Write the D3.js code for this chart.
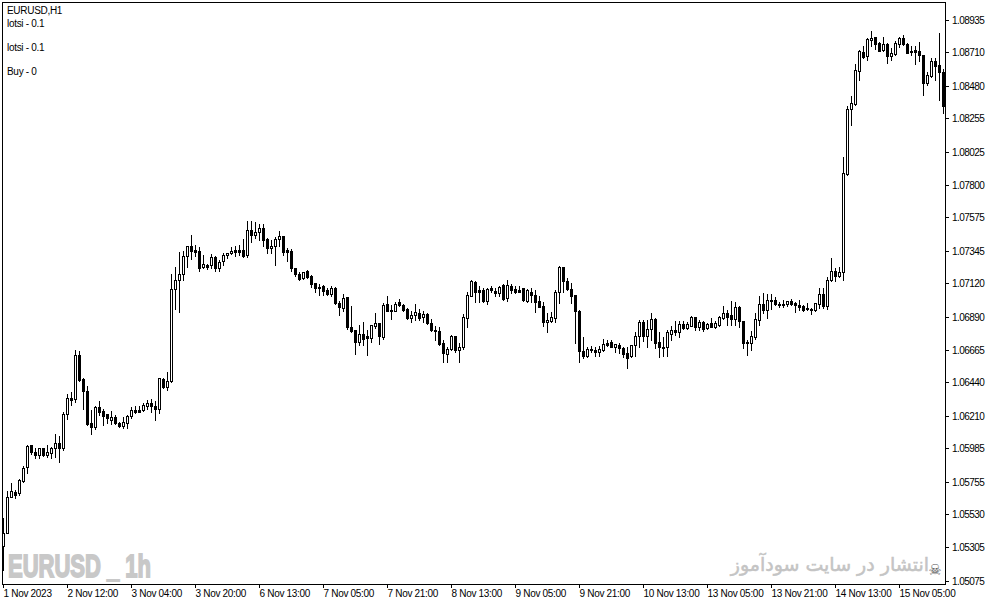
<!DOCTYPE html>
<html><head><meta charset="utf-8">
<script src="https://cdn.jsdelivr.net/npm/d3@7/dist/d3.min.js"></script>
<style>html,body{margin:0;padding:0;background:#fff;overflow:hidden}svg{display:block}
text{font-family:"Liberation Sans",Arial,sans-serif}</style></head><body>
<svg id="c" width="991" height="605"></svg>
<script>
const opens=[
1.05323,1.05408,1.05660,1.05690,1.05683,1.05770,1.05862,1.06016,1.05968,1.05947,
1.05993,1.05947,1.05963,1.05993,1.06027,1.05993,1.06229,1.06337,1.06330,1.06635,
1.06470,1.06383,1.06165,1.06142,1.06275,1.06247,1.06227,1.06188,1.06208,1.06165,
1.06149,1.06169,1.06211,1.06257,1.06257,1.06257,1.06284,1.06302,1.06282,1.06261,
1.06470,1.06417,1.06456,1.07087,1.07151,1.07190,1.07317,1.07383,1.07358,1.07351,
1.07243,1.07255,1.07250,1.07310,1.07236,1.07278,1.07319,1.07333,1.07358,1.07358,
1.07358,1.07319,1.07493,1.07463,1.07479,1.07507,1.07433,1.07367,1.07383,1.07431,
1.07452,1.07358,1.07351,1.07232,1.07193,1.07163,1.07211,1.07179,1.07128,1.07103,
1.07108,1.07083,1.07057,1.07096,1.06993,1.06956,1.07032,1.06826,1.06807,1.06727,
1.06780,1.06762,1.06750,1.06835,1.06853,1.06757,1.06986,1.06945,1.06938,1.06998,
1.06979,1.06950,1.06892,1.06908,1.06922,1.06895,1.06917,1.06853,1.06805,1.06796,
1.06716,1.06638,1.06674,1.06766,1.06670,1.06686,1.06892,1.07041,1.07135,1.07080,
1.07080,1.07009,1.07092,1.07073,1.07062,1.07117,1.07025,1.07110,1.07087,1.07083,
1.07092,1.07009,1.07071,1.07048,1.07009,1.06973,1.06860,1.06867,1.06892,1.07067,
1.07241,1.07145,1.07089,1.07044,1.06934,1.06665,1.06628,1.06674,1.06670,1.06658,
1.06670,1.06718,1.06723,1.06686,1.06702,1.06684,1.06647,1.06624,1.06700,1.06762,
1.06860,1.06762,1.06812,1.06883,1.06725,1.06690,1.06688,1.06780,1.06805,1.06789,
1.06846,1.06823,1.06837,1.06895,1.06830,1.06862,1.06823,1.06853,1.06830,1.06842,
1.06892,1.06922,1.06908,1.06885,1.06966,1.06865,1.06725,1.06720,1.06759,1.06878,
1.06986,1.06945,1.07016,1.07014,1.06986,1.06986,1.06982,1.07009,1.06995,1.06977,
1.06970,1.06956,1.06954,1.06947,1.06986,1.07055,1.06973,1.07147,1.07213,1.07179,
1.07204,1.07880,1.08325,1.08362,1.08591,1.08718,1.08688,1.08802,1.08821,1.08782,
1.08734,1.08775,1.08688,1.08706,1.08775,1.08814,1.08775,1.08729,1.08734,1.08727,
1.08699,1.08504,1.08555,1.08658,1.08630,1.08580];
const closes=[
1.05408,1.05660,1.05695,1.05674,1.05775,1.05855,1.06009,1.05970,1.05947,1.05993,
1.05947,1.05965,1.05993,1.06027,1.05993,1.06229,1.06337,1.06325,1.06635,1.06463,
1.06383,1.06160,1.06142,1.06275,1.06245,1.06215,1.06199,1.06206,1.06165,1.06149,
1.06172,1.06215,1.06257,1.06245,1.06245,1.06291,1.06302,1.06280,1.06261,1.06474,
1.06417,1.06458,1.07087,1.07149,1.07190,1.07317,1.07383,1.07353,1.07346,1.07236,
1.07259,1.07243,1.07310,1.07236,1.07273,1.07323,1.07335,1.07349,1.07346,1.07346,
1.07317,1.07493,1.07463,1.07479,1.07507,1.07427,1.07367,1.07383,1.07433,1.07452,
1.07346,1.07346,1.07236,1.07190,1.07158,1.07204,1.07170,1.07126,1.07092,1.07092,
1.07076,1.07057,1.07096,1.06993,1.06961,1.07025,1.06830,1.06800,1.06727,1.06780,
1.06745,1.06750,1.06842,1.06853,1.06762,1.06979,1.06938,1.06934,1.06986,1.06975,
1.06945,1.06892,1.06908,1.06927,1.06888,1.06915,1.06851,1.06803,1.06796,1.06713,
1.06645,1.06677,1.06766,1.06670,1.06688,1.06895,1.07048,1.07140,1.07071,1.07071,
1.07009,1.07087,1.07083,1.07062,1.07101,1.07021,1.07117,1.07083,1.07071,1.07071,
1.07014,1.07078,1.07044,1.07002,1.06966,1.06858,1.06876,1.06895,1.07071,1.07241,
1.07140,1.07087,1.07041,1.06934,1.06665,1.06628,1.06677,1.06670,1.06658,1.06677,
1.06711,1.06706,1.06690,1.06709,1.06679,1.06642,1.06615,1.06702,1.06764,1.06860,
1.06762,1.06812,1.06881,1.06720,1.06686,1.06684,1.06789,1.06807,1.06789,1.06846,
1.06823,1.06849,1.06899,1.06830,1.06862,1.06814,1.06849,1.06830,1.06853,1.06895,
1.06922,1.06899,1.06885,1.06966,1.06865,1.06720,1.06716,1.06764,1.06881,1.06986,
1.06945,1.07014,1.07009,1.06982,1.06979,1.06979,1.07005,1.06986,1.06975,1.06966,
1.06945,1.06950,1.06947,1.06989,1.07055,1.06973,1.07151,1.07213,1.07181,1.07202,
1.07885,1.08325,1.08367,1.08596,1.08727,1.08685,1.08809,1.08818,1.08775,1.08729,
1.08775,1.08688,1.08711,1.08779,1.08814,1.08773,1.08715,1.08720,1.08722,1.08695,
1.08509,1.08562,1.08658,1.08626,1.08578,1.08348];
const highs=[
1.05511,1.05695,1.05752,1.05706,1.05782,1.05867,1.06016,1.06016,1.05993,1.05993,
1.05993,1.06016,1.06004,1.06091,1.06078,1.06241,1.06367,1.06378,1.06669,1.06665,
1.06474,1.06422,1.06257,1.06284,1.06318,1.06261,1.06227,1.06250,1.06218,1.06176,
1.06206,1.06222,1.06275,1.06284,1.06284,1.06302,1.06325,1.06330,1.06318,1.06474,
1.06474,1.06516,1.07193,1.07239,1.07342,1.07353,1.07383,1.07461,1.07392,1.07374,
1.07323,1.07261,1.07330,1.07317,1.07289,1.07339,1.07339,1.07374,1.07385,1.07392,
1.07433,1.07557,1.07557,1.07548,1.07534,1.07537,1.07438,1.07427,1.07443,1.07489,
1.07452,1.07369,1.07362,1.07236,1.07202,1.07204,1.07220,1.07186,1.07128,1.07124,
1.07117,1.07094,1.07106,1.07101,1.07009,1.07055,1.07032,1.06968,1.06807,1.06842,
1.06860,1.06807,1.06842,1.06922,1.06853,1.06995,1.07041,1.06979,1.06998,1.07021,
1.06984,1.06956,1.06940,1.06984,1.06952,1.06934,1.06922,1.06881,1.06835,1.06830,
1.06739,1.06688,1.06773,1.06766,1.06716,1.06915,1.07071,1.07151,1.07140,1.07106,
1.07094,1.07094,1.07106,1.07094,1.07106,1.07124,1.07151,1.07124,1.07106,1.07110,
1.07096,1.07087,1.07094,1.07083,1.07037,1.07002,1.06922,1.06927,1.07083,1.07248,
1.07243,1.07163,1.07128,1.07048,1.06945,1.06757,1.06688,1.06697,1.06688,1.06693,
1.06745,1.06739,1.06739,1.06711,1.06716,1.06686,1.06686,1.06704,1.06789,1.06876,
1.06876,1.06876,1.06922,1.06888,1.06789,1.06755,1.06807,1.06837,1.06869,1.06869,
1.06865,1.06860,1.06904,1.06899,1.06876,1.06869,1.06853,1.06888,1.06865,1.06904,
1.06973,1.06945,1.07007,1.06998,1.06973,1.06869,1.06739,1.06796,1.06922,1.07037,
1.07060,1.07053,1.07055,1.07032,1.07002,1.07014,1.07009,1.07021,1.07002,1.07014,
1.06979,1.06991,1.06956,1.06995,1.07094,1.07094,1.07170,1.07300,1.07232,1.07243,
1.07995,1.08344,1.08417,1.08637,1.08734,1.08761,1.08814,1.08864,1.08825,1.08791,
1.08821,1.08779,1.08745,1.08796,1.08825,1.08837,1.08784,1.08757,1.08761,1.08786,
1.08699,1.08578,1.08676,1.08676,1.08848,1.08601];
const lows=[
1.05156,1.05408,1.05660,1.05653,1.05672,1.05763,1.05825,1.05954,1.05922,1.05924,
1.05940,1.05935,1.05924,1.05935,1.05901,1.05981,1.06192,1.06291,1.06314,1.06452,
1.06263,1.06153,1.06091,1.06126,1.06222,1.06153,1.06165,1.06158,1.06158,1.06142,
1.06130,1.06135,1.06202,1.06234,1.06241,1.06250,1.06261,1.06245,1.06188,1.06234,
1.06410,1.06394,1.06445,1.06950,1.06927,1.07151,1.07243,1.07296,1.07317,1.07213,
1.07236,1.07227,1.07236,1.07213,1.07213,1.07255,1.07300,1.07328,1.07317,1.07323,
1.07307,1.07305,1.07415,1.07438,1.07427,1.07381,1.07339,1.07339,1.07250,1.07385,
1.07323,1.07278,1.07213,1.07181,1.07151,1.07158,1.07163,1.07101,1.07071,1.07044,
1.07048,1.07044,1.07041,1.06986,1.06906,1.06940,1.06814,1.06791,1.06642,1.06704,
1.06704,1.06631,1.06727,1.06819,1.06711,1.06745,1.06934,1.06883,1.06934,1.06968,
1.06940,1.06883,1.06860,1.06876,1.06872,1.06860,1.06846,1.06798,1.06739,1.06704,
1.06585,1.06585,1.06670,1.06658,1.06589,1.06677,1.06830,1.07037,1.07002,1.07002,
1.06998,1.06984,1.07067,1.07041,1.07037,1.07014,1.07009,1.07064,1.07060,1.07067,
1.07007,1.06998,1.07002,1.06927,1.06963,1.06835,1.06794,1.06860,1.06860,1.06991,
1.07071,1.07083,1.06991,1.06716,1.06589,1.06612,1.06619,1.06654,1.06628,1.06624,
1.06665,1.06693,1.06686,1.06654,1.06651,1.06619,1.06548,1.06619,1.06628,1.06686,
1.06732,1.06686,1.06739,1.06681,1.06617,1.06624,1.06624,1.06739,1.06773,1.06757,
1.06814,1.06814,1.06835,1.06807,1.06803,1.06800,1.06812,1.06826,1.06823,1.06837,
1.06881,1.06842,1.06842,1.06842,1.06830,1.06681,1.06635,1.06670,1.06743,1.06842,
1.06922,1.06888,1.06952,1.06975,1.06961,1.06961,1.06968,1.06977,1.06931,1.06945,
1.06934,1.06945,1.06917,1.06940,1.06956,1.06956,1.06952,1.07140,1.07140,1.07174,
1.07151,1.07874,1.08218,1.08351,1.08527,1.08676,1.08665,1.08763,1.08740,1.08727,
1.08729,1.08646,1.08665,1.08695,1.08750,1.08768,1.08711,1.08695,1.08637,1.08660,
1.08424,1.08493,1.08546,1.08527,1.08390,1.08302];
const priceTicks=[1.05075,1.05305,1.05530,1.05755,1.05985,1.06210,1.06440,1.06665,1.06890,1.07120,1.07345,1.07575,1.07800,1.08025,1.08255,1.08480,1.08710,1.08935];
const timeTicks=["1 Nov 2023","2 Nov 12:00","3 Nov 04:00","3 Nov 20:00","6 Nov 13:00","7 Nov 05:00","7 Nov 21:00","8 Nov 13:00","9 Nov 05:00","9 Nov 21:00","10 Nov 13:00","13 Nov 05:00","13 Nov 21:00","14 Nov 13:00","15 Nov 05:00"];
const infoLines=[["EURUSD,H1",14],["lotsi - 0.1",27],["lotsi - 0.1",51],["Buy - 0",75]];

const svg=d3.select("#c");
const idx=d3.range(opens.length);
const x=d3.scalePoint().domain(idx).range([3,943]);
const y=d3.scaleLinear().domain([1.05075,1.08935]).range([581.6,20.6]).interpolate(d3.interpolateRound);

// watermarks
svg.append("text").attr("x",8).attr("y",577).attr("fill","#c8c8c8").attr("stroke","#c8c8c8").attr("stroke-width",1.8)
  .style("font-family",'"Liberation Sans Narrow","Liberation Sans",sans-serif').style("font-weight",700).style("font-size","32px")
  .style("white-space","pre").attr("textLength",143).attr("lengthAdjust","spacingAndGlyphs").text("EURUSD _ 1h");
svg.append("text").attr("x",929).attr("y",571).attr("direction","rtl").attr("fill","#c4c4c4").attr("stroke","#c4c4c4").attr("stroke-width",.5)
  .style("font-family",'"DejaVu Sans",sans-serif').style("font-size","19px").text("انتشار در سایت سودآموز");
svg.append("text").attr("x",935).attr("y",575).attr("text-anchor","middle").attr("fill","#555")
  .style("font-family",'"DejaVu Sans",sans-serif').style("font-size","15px").text("☠");

// candles
const g=svg.append("g").attr("shape-rendering","crispEdges");
const c=g.selectAll("g").data(idx).join("g");
c.append("line").attr("x1",i=>x(i)+.5).attr("x2",i=>x(i)+.5)
  .attr("y1",i=>y(highs[i])).attr("y2",i=>y(lows[i])+1).attr("stroke","#000");
c.append("rect").attr("x",i=>x(i)-.5).attr("width",2)
  .attr("y",i=>Math.min(y(opens[i]),y(closes[i]))+.5)
  .attr("height",i=>Math.max(1,Math.abs(y(opens[i])-y(closes[i]))))
  .attr("fill",i=>closes[i]>=opens[i]?"#fff":"#000").attr("stroke","#000");

// frame
svg.append("rect").attr("x",2.5).attr("y",2.5).attr("width",943).attr("height",582)
  .attr("fill","none").attr("stroke","#000").attr("shape-rendering","crispEdges");

// axes
const yAxis=d3.axisRight(y).tickValues(priceTicks).tickFormat(d3.format(".5f")).tickSize(3).tickSizeOuter(0).tickPadding(3);
const ya=svg.append("g").attr("transform","translate(946,-1)").call(yAxis);
const xAxis=d3.axisBottom(x).tickValues(timeTicks.map((_,k)=>k*16)).tickFormat((_,k)=>timeTicks[k]).tickSize(3).tickSizeOuter(0).tickPadding(2);
const xa=svg.append("g").attr("transform","translate(0,585)").call(xAxis);
[ya,xa].forEach(a=>{a.select(".domain").remove();a.selectAll("line").attr("stroke","#000").attr("shape-rendering","crispEdges");
  a.selectAll("text").attr("fill","#000").style("font-family",'"Liberation Sans",sans-serif').style("font-size","10px");});
ya.selectAll("text").style("letter-spacing","-0.55px");
xa.selectAll("text").attr("text-anchor","start").attr("x",0).style("letter-spacing","-0.3px");

// info text
svg.selectAll(".info").data(infoLines).join("text").attr("class","info").attr("x",7).attr("y",d=>d[1])
  .style("font-size","10px").style("letter-spacing","-0.3px").attr("fill","#000").text(d=>d[0]);
</script></body></html>
